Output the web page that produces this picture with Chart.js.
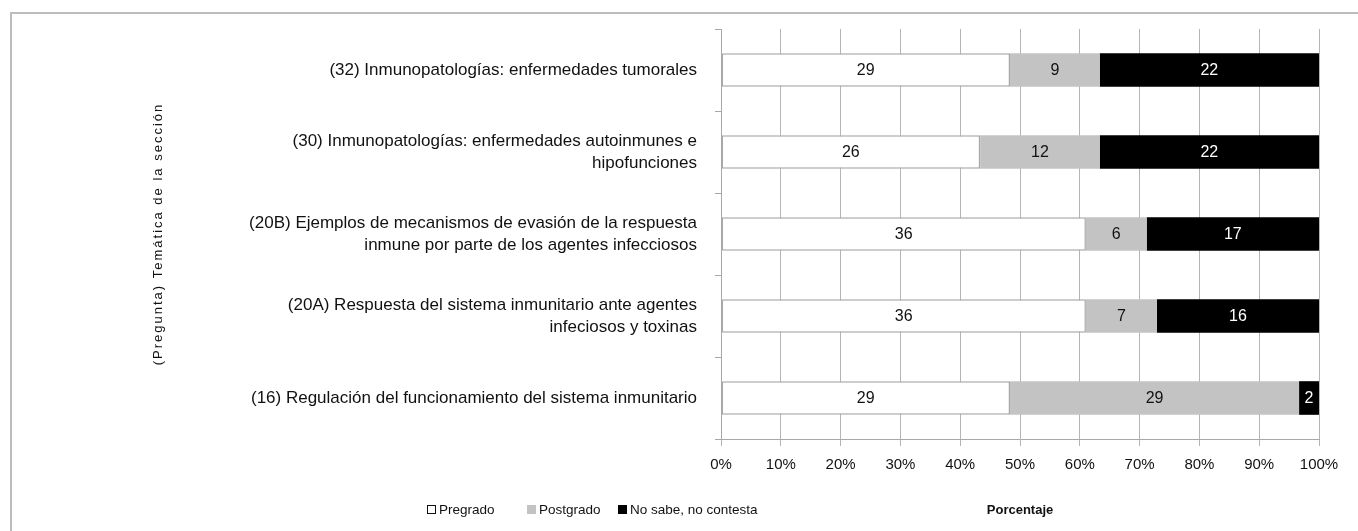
<!DOCTYPE html>
<html>
<head>
<meta charset="utf-8">
<script src="https://cdn.jsdelivr.net/npm/chart.js@4.4.1/dist/chart.umd.min.js"></script>
<style>
  body { margin: 0; background: #fff; font-family: "Liberation Sans", Arial, sans-serif; }
  #frame { position: absolute; left: 10px; top: 12px; width: 1500px; height: 700px;
           border-left: 2px solid #bdbdbd; border-top: 2px solid #bdbdbd; }
  #container { position: absolute; left: 0; top: 0; width: 1358px; height: 531px; }
  .item { position: absolute; top: 502px; font-size: 13.5px; color: #111;
          display: flex; align-items: center; white-space: nowrap; }
  .box { width: 9px; height: 9px; margin-right: 3px; box-sizing: border-box; }
</style>
</head>
<body>
<div id="frame"></div>
<div id="container"><canvas id="chart" width="1358" height="531"></canvas></div>
<div id="legend"></div>
<script>
const categories = [
  '(32) Inmunopatologías: enfermedades tumorales',
  ['(30) Inmunopatologías: enfermedades autoinmunes e', 'hipofunciones'],
  ['(20B) Ejemplos de mecanismos de evasión de la respuesta', 'inmune por parte de los agentes infecciosos'],
  ['(20A) Respuesta del sistema inmunitario ante agentes', 'infeciosos y toxinas'],
  '(16) Regulación del funcionamiento del sistema inmunitario'
];
const seriesNames = ['Pregrado', 'Postgrado', 'No sabe, no contesta'];
const pregrado = [29, 26, 36, 36, 29];
const postgrado = [9, 12, 6, 7, 29];
const noSabe = [22, 22, 17, 16, 2];
const xTickValues = [0, 10, 20, 30, 40, 50, 60, 70, 80, 90, 100];
const yTitle = '(Pregunta) Temática de la sección';

const fills = ['#ffffff', '#c3c3c3', '#000000'];
const borders = ['#a8a8a8', '#c3c3c3', '#000000'];
const labelColors = ['#111', '#111', '#fff'];
const legendLefts = [427, 527, 618];

const counts = [pregrado, postgrado, noSabe];
const totals = categories.map((c, i) => pregrado[i] + postgrado[i] + noSabe[i]);

// value labels in the middle of each segment, plus the spaced-out y title
const segmentLabels = {
  id: 'segmentLabels',
  afterDatasetsDraw(chart) {
    const ctx = chart.ctx;
    ctx.save();
    ctx.font = '16px "Liberation Sans", Arial, sans-serif';
    ctx.textAlign = 'center';
    ctx.textBaseline = 'middle';
    chart.data.datasets.forEach((ds, d) => {
      chart.getDatasetMeta(d).data.forEach((bar, i) => {
        ctx.fillStyle = labelColors[d];
        ctx.fillText(String(counts[d][i]), (bar.x + bar.base) / 2, bar.y + 1);
      });
    });
    ctx.restore();
  },
  afterDraw(chart) {
    const ctx = chart.ctx;
    const area = chart.chartArea;
    ctx.save();
    ctx.font = '13px "Liberation Sans", Arial, sans-serif';
    ctx.letterSpacing = '2px';
    ctx.fillStyle = '#111';
    ctx.textAlign = 'center';
    ctx.textBaseline = 'middle';
    ctx.translate(158, (area.top + area.bottom) / 2);
    ctx.rotate(-Math.PI / 2);
    ctx.fillText(yTitle, 0, 0);
    ctx.restore();
  }
};

function render() {
  const ctx = document.getElementById('chart').getContext('2d');
  Chart.defaults.font.family = '"Liberation Sans", Arial, sans-serif';
  Chart.defaults.color = '#111';

  new Chart(ctx, {
    type: 'bar',
    data: {
      labels: categories,
      datasets: seriesNames.map((name, d) => ({
        label: name,
        data: counts[d].map((v, i) => v / totals[i] * 100),
        backgroundColor: fills[d],
        borderColor: borders[d],
        borderWidth: d === 0 ? 1.5 : 0,
        borderSkipped: false,
        barPercentage: 0.41,
        categoryPercentage: 1
      }))
    },
    options: {
      indexAxis: 'y',
      responsive: false,
      animation: false,
      layout: { padding: { left: 140, right: 39, top: 27, bottom: 0 } },
      scales: {
        x: {
          stacked: true,
          min: 0,
          max: 100,
          afterBuildTicks(scale) {
            scale.ticks = xTickValues.map(v => ({ value: v }));
          },
          afterFit(scale) { scale.height = 92; },
          ticks: {
            font: { size: 15 },
            padding: 10,
            callback: v => v + '%'
          },
          grid: { color: '#b5b5b5', tickLength: 7 },
          border: { color: '#a8a8a8' },
          title: {
            display: true,
            text: 'Porcentaje',
            font: { size: 13, weight: 'bold' },
            padding: { top: 0, bottom: 13 }
          }
        },
        y: {
          stacked: true,
          afterFit(scale) { scale.width = 581; },
          ticks: {
            font: { size: 17, lineHeight: 1.3 },
            padding: 18
          },
          grid: { drawOnChartArea: false, tickLength: 6, color: '#a8a8a8', offset: true },
          border: { color: '#a8a8a8' },
          title: { display: false }
        }
      },
      plugins: {
        legend: { display: false },
        tooltip: { enabled: false }
      }
    },
    plugins: [segmentLabels]
  });

  const legend = document.getElementById('legend');
  seriesNames.forEach((name, d) => {
    const item = document.createElement('div');
    item.className = 'item';
    item.style.left = legendLefts[d] + 'px';
    const border = d === 0 ? '1.5px solid #111' : 'none';
    item.innerHTML = `<span class="box" style="background:${fills[d]};border:${border}"></span><span>${name}</span>`;
    legend.appendChild(item);
  });
}

render();
</script>
</body>
</html>
